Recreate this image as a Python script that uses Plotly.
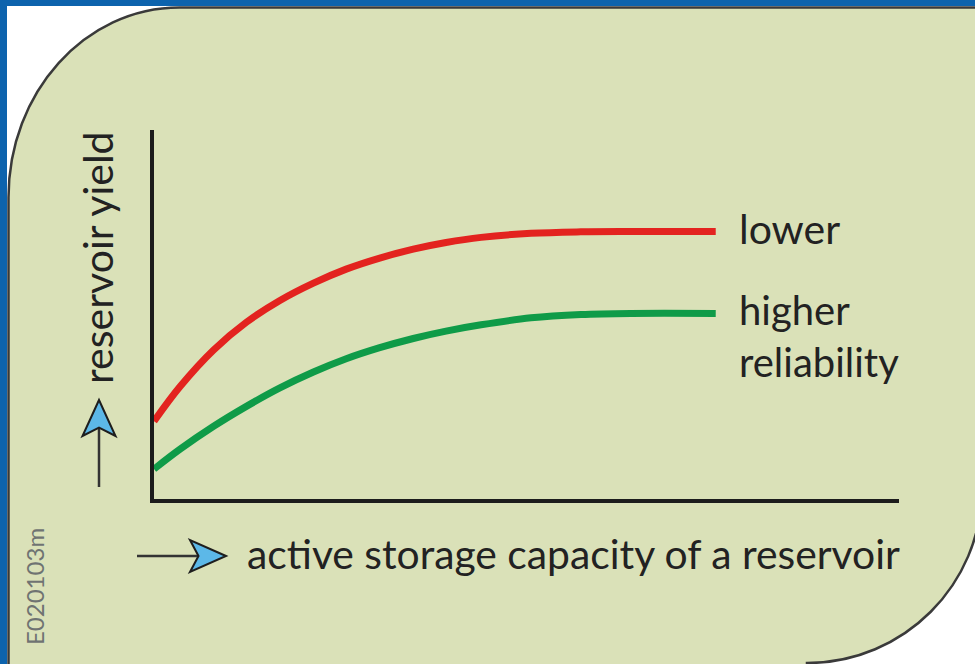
import plotly.graph_objects as go

# ---- data (arbitrary units) ----
storage = [0, 3.5, 8.0, 12.4, 16.9, 21.4, 25.8, 30.3, 34.8, 39.2, 43.9, 50.6, 57.3, 64.0, 75.4]
yield_lower = [21.1, 30.5, 40.4, 47.9, 53.8, 58.5, 62.3, 65.3, 67.7, 69.5, 70.9, 72.0, 72.4, 72.5, 72.5]
yield_higher = [8.1, 13.5, 19.7, 25.1, 30.1, 34.4, 38.0, 41.0, 43.5, 45.5, 47.2, 49.1, 50.0, 50.3, 50.3]
series_labels = ["lower", "higher<br>reliability"]
x_title = "active storage capacity of a reservoir"
y_title = "reservoir yield"
code_label = "E020103m"

W, H = 975, 664
FONT = "Lato, 'Open Sans', sans-serif"


def X(px):
    return px / W


def Y(py):
    return 1 - py / H


def P(pt):
    return f"{X(pt[0]):.5f},{Y(pt[1]):.5f}"


k = 0.5523
# panel outline (pixel geometry)
L_, T_ = 8.5, 7.5
rx, ry = 171, 190
cx, cy, r = 807, 488, 175
panel = (
    f"M {P((L_, 668))} L {P((L_, T_ + ry))} "
    f"C {P((L_, T_ + ry - k * ry))} {P((L_ + rx - k * rx, T_))} {P((L_ + rx, T_))} "
    f"L {P((990, T_))} L {P((cx + r, cy))} "
    f"C {P((cx + r, cy + k * r))} {P((cx + k * r, cy + r))} {P((cx, cy + r))} "
    f"L {P((cx, 668))} Z"
)

y_head = f"M {P((99, 400))} L {P((115.5, 436))} L {P((99, 427.5))} L {P((82.5, 436))} Z"
x_head = f"M {P((226, 556))} L {P((190, 540))} L {P((198.5, 556))} L {P((190, 572))} Z"

fig = go.Figure()
fig.add_trace(go.Scatter(x=storage, y=yield_lower, mode="lines",
                         line=dict(color="#e3231f", width=7, shape="spline", smoothing=1.0),
                         hoverinfo="skip", showlegend=False))
fig.add_trace(go.Scatter(x=storage, y=yield_higher, mode="lines",
                         line=dict(color="#0f9b48", width=7, shape="spline", smoothing=1.0),
                         hoverinfo="skip", showlegend=False))

shapes = [
    dict(type="rect", xref="paper", yref="paper", x0=0, x1=1, y0=Y(6), y1=1,
         fillcolor="#0d63ad", line=dict(width=0), layer="below"),
    dict(type="rect", xref="paper", yref="paper", x0=0, x1=X(7), y0=0, y1=1,
         fillcolor="#0d63ad", line=dict(width=0), layer="below"),
    dict(type="path", xref="paper", yref="paper", path=panel,
         fillcolor="#dae1b8", line=dict(color="#3a3a3a", width=2.5), layer="below"),
    dict(type="line", xref="paper", yref="paper", x0=X(99), x1=X(99), y0=Y(487), y1=Y(428),
         line=dict(color="#333333", width=2.5)),
    dict(type="path", xref="paper", yref="paper", path=y_head,
         fillcolor="#5cb8e8", line=dict(color="#1e1e1e", width=2)),
    dict(type="line", xref="paper", yref="paper", x0=X(137), x1=X(198), y0=Y(556), y1=Y(556),
         line=dict(color="#333333", width=2.5)),
    dict(type="path", xref="paper", yref="paper", path=x_head,
         fillcolor="#5cb8e8", line=dict(color="#1e1e1e", width=2)),
]

annotations = [
    dict(text=series_labels[0], x=X(737), y=Y(228), xref="paper", yref="paper",
         xanchor="left", yanchor="middle", showarrow=False, align="left",
         font=dict(family=FONT, size=41, color="#222222")),
    dict(text=series_labels[1], x=X(737), y=Y(336), xref="paper", yref="paper",
         xanchor="left", yanchor="middle", showarrow=False, align="left",
         font=dict(family=FONT, size=40, color="#222222")),
    dict(text=x_title, x=X(245), y=Y(553), xref="paper", yref="paper",
         xanchor="left", yanchor="middle", showarrow=False,
         font=dict(family=FONT, size=40.8, color="#222222")),
    dict(text=y_title, x=X(98), y=Y(258), xref="paper", yref="paper",
         xanchor="center", yanchor="middle", showarrow=False, textangle=-90,
         font=dict(family=FONT, size=41, color="#222222")),
    dict(text=code_label, x=X(34), y=Y(587), xref="paper", yref="paper",
         xanchor="center", yanchor="middle", showarrow=False, textangle=-90,
         font=dict(family=FONT, size=24, color="#6f7372")),
]

axis_common = dict(showline=True, linecolor="#1c1c1c", linewidth=4, showgrid=False,
                   zeroline=False, ticks="", showticklabels=False, fixedrange=True)

fig.update_layout(
    width=W, height=H,
    margin=dict(l=0, r=0, t=0, b=0),
    paper_bgcolor="white",
    plot_bgcolor="rgba(0,0,0,0)",
    xaxis=dict(domain=[X(154), X(899)], range=[0, 100], **axis_common),
    yaxis=dict(domain=[Y(499), Y(130)], range=[0, 100], **axis_common),
    shapes=shapes,
    annotations=annotations,
    showlegend=False,
)

fig.write_html(
    "out.html",
    config={"displayModeBar": False},
    post_script="document.body.style.margin='0';document.body.style.overflow='hidden';",
)
